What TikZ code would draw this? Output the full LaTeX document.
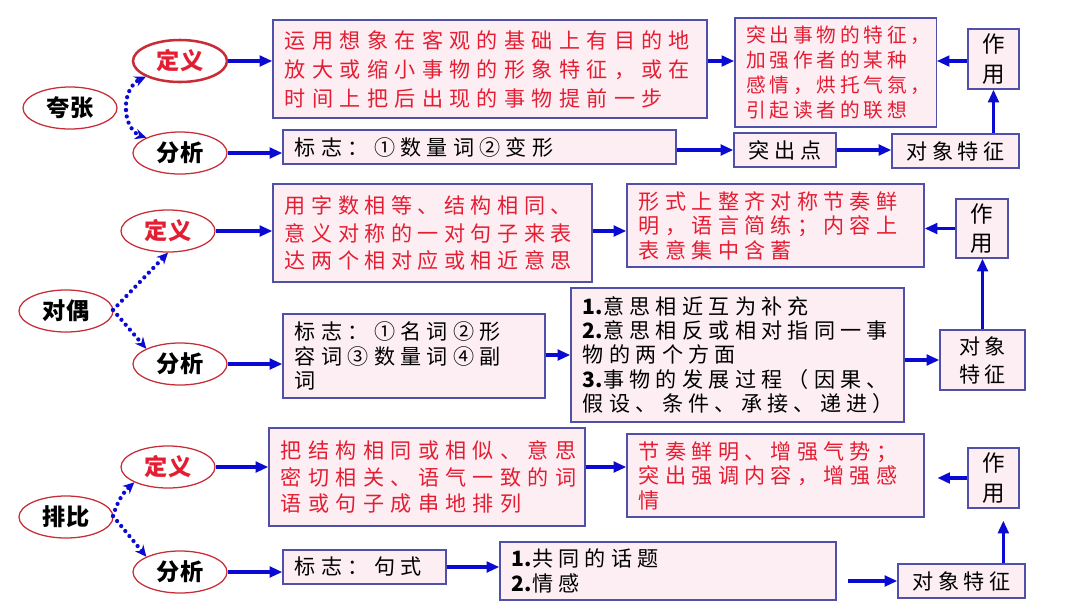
\documentclass[tikz,border=0pt]{standalone}
\usepackage{fontspec}
\setmainfont{Noto Sans CJK SC}
\usepackage{tikz}
\usetikzlibrary{shapes.geometric, arrows.meta, positioning, calc}
\definecolor{framepurple}{RGB}{80,80,170}
\definecolor{boxpink}{RGB}{253,238,244}
\definecolor{inkred}{RGB}{228,30,50}
\definecolor{ringred}{RGB}{200,45,55}
\definecolor{arrblue}{RGB}{10,10,210}
\newcommand{\boxfont}{\fontsize{15}{17.4}\selectfont\addfontfeature{LetterSpace=25}}
\newcommand{\tagfont}{\fontsize{16.5}{18}\selectfont\bfseries}
\newcommand{\itemno}[1]{{\bfseries\addfontfeature{LetterSpace=0}#1.}}

\begin{document}
\begin{tikzpicture}[x=0.025cm, y=-0.025cm,
  topic/.style={ellipse, draw=ringred, fill=white, line width=0.9pt,
                minimum width=2.35cm, minimum height=1.05cm, inner sep=0pt,
                font=\tagfont},
  tagdef/.style={topic, text=inkred},
  textbox/.style={rectangle, draw=framepurple, fill=boxpink, line width=0.9pt,
                  inner xsep=0.3cm, inner ysep=1pt, align=left, font=\boxfont},
  redbox/.style={textbox, text=inkred},
  usebox/.style={rectangle, draw=framepurple, fill=boxpink, line width=0.9pt,
                 minimum width=1.28cm, minimum height=1.5cm, inner sep=1pt,
                 align=center, font=\fontsize{16}{21}\selectfont},
  tagbox/.style={rectangle, draw=framepurple, fill=boxpink, line width=0.9pt,
                 minimum height=0.85cm, inner sep=1pt, align=center,
                 font={\fontsize{15}{18}\selectfont\addfontfeature{LetterSpace=22}}},
  arr/.style={-{Triangle[length=9pt, width=7.5pt]}, line width=2.2pt, draw=arrblue},
  fork/.style={-{Stealth[length=8pt, width=7.5pt]}, line width=3pt, draw=arrblue,
               line cap=round, dash pattern=on 0pt off 4.6pt}
]
  \useasboundingbox (0,0) rectangle (1080,608);

  % 夸张
  \node[topic]  (kz)    at (70,108)  {夸张};
  \node[tagdef, line width=1.8pt] (kzdef) at (180,61) {定义};
  \node[topic]  (kzana) at (180,153) {分析};
  \coordinate   (kzf)   at (126,110);

  \node[redbox, text width=10.25cm, minimum height=2.45cm,
        font={\fontsize{15}{20.6}\selectfont\addfontfeature{LetterSpace=30}}]
        (kzdbox) at (490,69)
        {运用想象在客观的基础上有目的地\\放大或缩小事物的形象特征，或在\\时间上把后出现的事物提前一步};
  \node[redbox, text width=4.45cm, minimum height=2.725cm, inner xsep=0.29cm,
        font={\fontsize{14}{17.8}\selectfont\addfontfeature{LetterSpace=19}}]
        (kzeff) at (835.5,72.5)
        {突出事物的特征，\\加强作者的某种\\感情，烘托气氛，\\引起读者的联想};
  \node[usebox] (kzuse) at (993.5,59) {作\\用};

  \node[textbox, text width=9.225cm, minimum height=0.85cm]
        (kzsign) at (479.5,147) {标志：①数量词②变形};
  \node[tagbox, minimum width=2.55cm]  (kzpt)  at (785,150)   {突出点};
  \node[tagbox, minimum width=3.175cm] (kzobj) at (955.5,151) {对象特征};

  % 对偶
  \node[topic]  (do)    at (66,311)  {对偶};
  \node[tagdef] (dodef) at (168,231) {定义};
  \node[topic]  (doana) at (180,364) {分析};
  \coordinate   (dof)   at (113,310);

  \node[redbox, text width=7.375cm, minimum height=2.45cm,
        font={\fontsize{15}{19.5}\selectfont\addfontfeature{LetterSpace=26}}]
        (dodbox) at (432.5,233)
        {用字数相等、结构相同、\\意义对称的一对句子来表\\达两个相对应或相近意思};
  \node[redbox, text width=6.825cm, minimum height=2.075cm]
        (doeff) at (775.5,225.5)
        {形式上整齐对称节奏鲜\\明，语言简练；内容上\\表意集中含蓄};
  \node[usebox, minimum width=1.3cm, minimum height=1.475cm] (douse) at (982,228.5) {作\\用};

  \node[textbox, text width=5.95cm, minimum height=2.1cm]
        (dosign) at (414,356) {标志：①名词②形\\容词③数量词④副\\词};
  \node[textbox, text width=7.725cm, minimum height=3.35cm]
        (dopts) at (737.5,355)
        {\itemno{1}意思相近互为补充\\\itemno{2}意思相反或相对指同一事\\物的两个方面\\\itemno{3}事物的发展过程（因果、\\假设、条件、承接、递进）};
  \node[tagbox, minimum width=2.125cm, minimum height=1.5cm,
        font={\fontsize{15}{20}\selectfont\addfontfeature{LetterSpace=22}}]
        (doobj) at (982.5,360) {对象\\特征};

  % 排比
  \node[topic]  (pb)    at (66,517)  {排比};
  \node[tagdef] (pbdef) at (168,467) {定义};
  \node[topic]  (pbana) at (180,572) {分析};
  \coordinate   (pbf)   at (113,516);

  \node[redbox, text width=7.3cm, minimum height=2.45cm,
        font={\fontsize{15}{19}\selectfont\addfontfeature{LetterSpace=30}}]
        (pbdbox) at (427,477)
        {把结构相同或相似、意思\\密切相关、语气一致的词\\语或句子成串地排列};
  \node[redbox, text width=6.825cm, minimum height=2.075cm]
        (pbeff) at (775.5,475.5)
        {节奏鲜明、增强气势；\\突出强调内容，增强感\\情};
  \node[usebox] (pbuse) at (993.5,478) {作\\用};

  \node[textbox, text width=3.475cm, minimum height=0.85cm]
        (pbsign) at (364.5,567) {标志：句式};
  \node[textbox, text width=7.8cm, minimum height=1.45cm]
        (pbpts) at (668,571) {\itemno{1}共同的话题\\\itemno{2}情感};
  \node[tagbox, minimum width=3.175cm] (pbobj) at (961.5,581) {对象特征};

  % ── Arrows ────────────────────────────────────────────────────────────
  % 夸张
  \draw[fork] (kzf) to[bend left=35]  (kzdef.south west);
  \draw[fork] (kzf) to[bend right=35] (kzana.north west);
  \draw[arr] (kzdef.east) -- (kzdef.east -| kzdbox.west);
  \draw[arr] (kzdbox.east |- kzdef.east) -- (kzeff.west |- kzdef.east);
  \draw[arr] (kzuse.west |- kzdef.east) -- (kzeff.east |- kzdef.east);
  \draw[arr] (kzana.east) -- (kzana.east -| kzsign.west);
  \draw[arr] (kzsign.east |- kzpt.west) -- (kzpt.west);
  \draw[arr] (kzpt.east) -- (kzpt.east -| kzobj.west);
  \draw[arr] (kzuse.south |- kzobj.north) -- (kzuse.south);

  % 对偶
  \draw[fork] (dof) -- (dodef.south);
  \draw[fork] (dof) -- (doana.north west);
  \draw[arr] (dodef.east) -- (dodef.east -| dodbox.west);
  \draw[arr] (dodbox.east |- dodef.east) -- (doeff.west |- dodef.east);
  \draw[arr] (douse.west) -- (douse.west -| doeff.east);
  \draw[arr] (doana.east) -- (doana.east -| dosign.west);
  \draw[arr] (dosign.east |- dopts.west) -- (dopts.west);
  \draw[arr] (dopts.east |- doobj.west) -- (doobj.west);
  \draw[arr] (doobj.north) -- (doobj.north |- douse.south);

  % 排比
  \draw[fork] (pbf) to[bend left=15] (pbdef.south west);
  \draw[fork] (pbf) -- (pbana.north west);
  \draw[arr] (pbdef.east) -- (pbdef.east -| pbdbox.west);
  \draw[arr] (pbdbox.east |- pbdef.east) -- (pbeff.west |- pbdef.east);
  \draw[arr, shorten >=9pt] (pbuse.west) -- (pbuse.west -| pbeff.east);
  \draw[arr] (pbana.east) -- (pbana.east -| pbsign.west);
  \draw[arr] (pbsign.east) -- (pbsign.east -| pbpts.west);
  \draw[arr, shorten <=8pt] (pbpts.east |- pbobj.west) -- (pbobj.west);
  \draw[arr, shorten >=8.5pt] ([xshift=7pt]pbuse.south |- pbobj.north) -- ([xshift=7pt]pbuse.south);

\end{tikzpicture}
\end{document}
